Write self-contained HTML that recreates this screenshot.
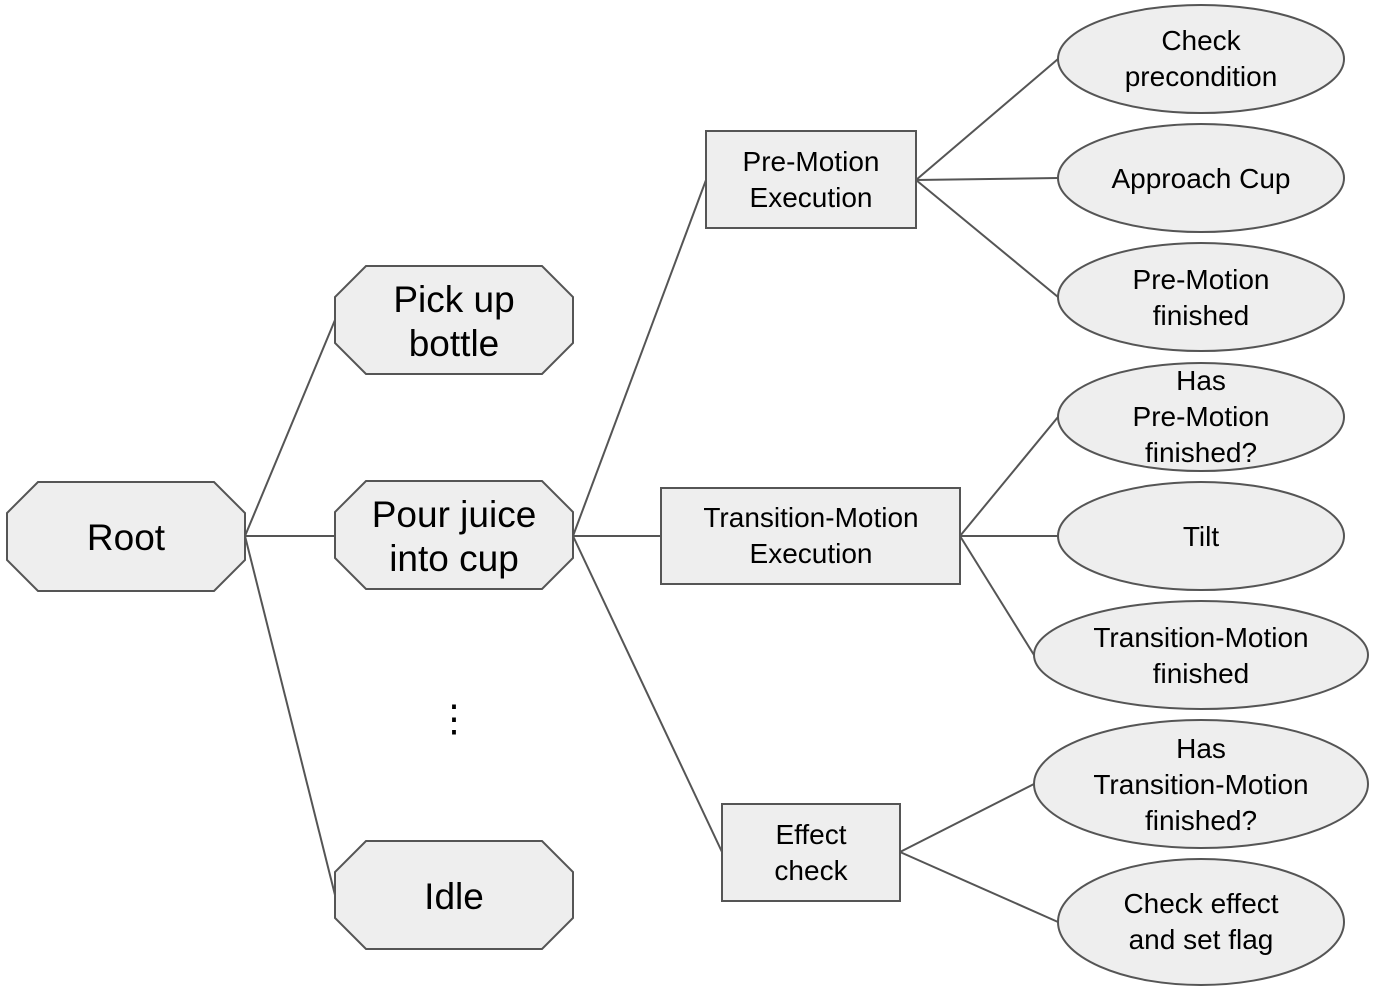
<!DOCTYPE html>
<html><head><meta charset="utf-8"><style>body{margin:0;background:#fff}svg{display:block}</style></head><body>
<svg width="1373" height="992" viewBox="0 0 1373 992" xmlns="http://www.w3.org/2000/svg" font-family="Liberation Sans, sans-serif" text-anchor="middle">
<g stroke="#555" stroke-width="2" fill="none">
<line x1="245" y1="536" x2="335" y2="320"/>
<line x1="245" y1="536" x2="335" y2="536"/>
<line x1="245" y1="536" x2="335" y2="895"/>
<line x1="573" y1="536" x2="706" y2="180"/>
<line x1="573" y1="536" x2="661" y2="536"/>
<line x1="573" y1="536" x2="722" y2="852"/>
<line x1="916" y1="180" x2="1058" y2="59"/>
<line x1="916" y1="180" x2="1058" y2="178"/>
<line x1="916" y1="180" x2="1058" y2="297"/>
<line x1="960" y1="536" x2="1058" y2="417"/>
<line x1="960" y1="536" x2="1058" y2="536"/>
<line x1="960" y1="536" x2="1034" y2="655"/>
<line x1="900" y1="852" x2="1034" y2="784"/>
<line x1="900" y1="852" x2="1058" y2="922"/>
</g>
<g fill="#eeeeee" stroke="#555" stroke-width="2">
<polygon points="38,482 214,482 245,513 245,560 214,591 38,591 7,560 7,513"/>
<polygon points="366,266 542,266 573,297 573,343 542,374 366,374 335,343 335,297"/>
<polygon points="366,481 542,481 573,512 573,558 542,589 366,589 335,558 335,512"/>
<polygon points="366,841 542,841 573,872 573,918 542,949 366,949 335,918 335,872"/>
<rect x="706" y="131" width="210" height="97"/>
<rect x="661" y="488" width="299" height="96"/>
<rect x="722" y="804" width="178" height="97"/>
<ellipse cx="1201" cy="59" rx="143" ry="54"/>
<ellipse cx="1201" cy="178" rx="143" ry="54"/>
<ellipse cx="1201" cy="297" rx="143" ry="54"/>
<ellipse cx="1201" cy="417" rx="143" ry="54"/>
<ellipse cx="1201" cy="536" rx="143" ry="54"/>
<ellipse cx="1201" cy="655" rx="167" ry="54"/>
<ellipse cx="1201" cy="784" rx="167" ry="64"/>
<ellipse cx="1201" cy="922" rx="143" ry="63"/>
</g>
<g fill="#000" font-size="37">
<text x="126" y="550">Root</text>
<text x="454" y="312">Pick up</text><text x="454" y="356">bottle</text>
<text x="454" y="527">Pour juice</text><text x="454" y="571">into cup</text>
<text x="454" y="909">Idle</text>
<text x="454" y="731">⋮</text>
</g>
<g fill="#000" font-size="28">
<text x="811" y="171">Pre-Motion</text><text x="811" y="207">Execution</text>
<text x="811" y="527">Transition-Motion</text><text x="811" y="563">Execution</text>
<text x="811" y="844">Effect</text><text x="811" y="880">check</text>
<text x="1201" y="50">Check</text><text x="1201" y="86">precondition</text>
<text x="1201" y="188">Approach Cup</text>
<text x="1201" y="289">Pre-Motion</text><text x="1201" y="325">finished</text>
<text x="1201" y="390">Has</text><text x="1201" y="426">Pre-Motion</text><text x="1201" y="462">finished?</text>
<text x="1201" y="546">Tilt</text>
<text x="1201" y="647">Transition-Motion</text><text x="1201" y="683">finished</text>
<text x="1201" y="758">Has</text><text x="1201" y="794">Transition-Motion</text><text x="1201" y="830">finished?</text>
<text x="1201" y="913">Check effect</text><text x="1201" y="949">and set flag</text>
</g>
</svg>
</body></html>
